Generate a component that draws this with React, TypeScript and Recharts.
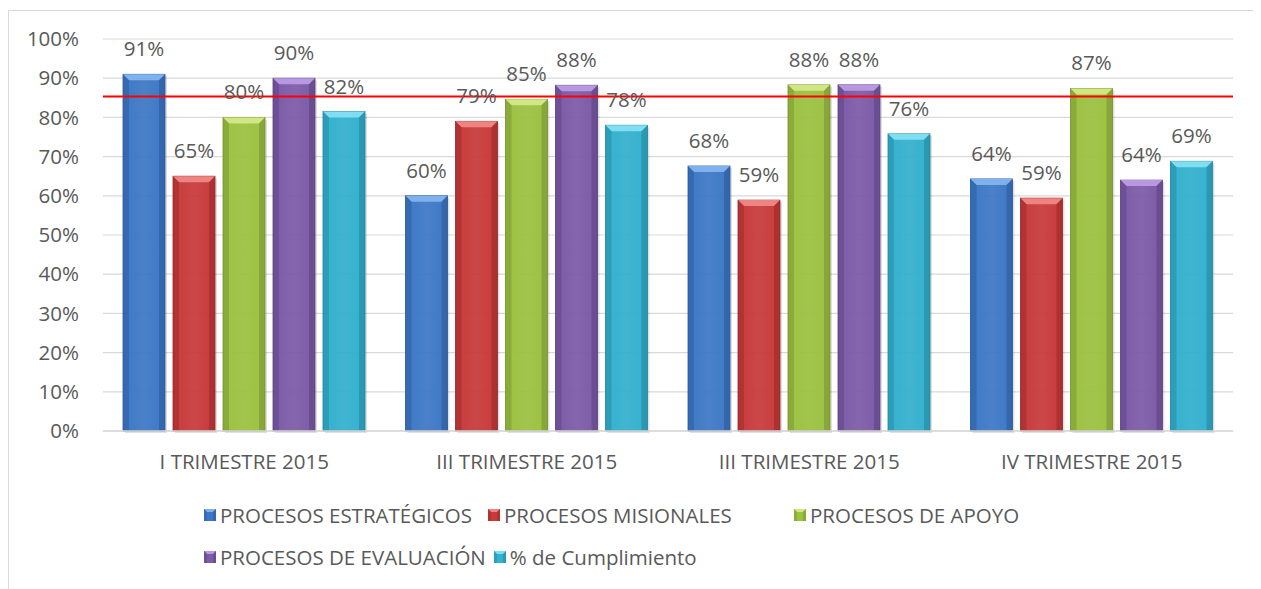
import React from 'react';
import { ComposedChart, Bar, XAxis, YAxis, CartesianGrid, ReferenceLine, LabelList, Legend } from 'recharts';

const categories = ['I TRIMESTRE 2015', 'III TRIMESTRE 2015', 'III TRIMESTRE 2015', 'IV TRIMESTRE 2015'];
const estrategicos = [91, 60, 67.6, 64.3];
const misionales = [65, 79, 58.9, 59.4];
const apoyo = [80, 84.6, 88.3, 87.4];
const evaluacion = [90, 88.2, 88.3, 64];
const cumplimiento = [81.5, 78, 75.8, 68.8];
const yTicks = [0, 10, 20, 30, 40, 50, 60, 70, 80, 90, 100];
const meta = 85.3;

const seriesNames = ['PROCESOS ESTRATÉGICOS', 'PROCESOS MISIONALES', 'PROCESOS DE APOYO', 'PROCESOS DE EVALUACIÓN', '% de Cumplimiento'];
const seriesKeys = ['estrategicos', 'misionales', 'apoyo', 'evaluacion', 'cumplimiento'];

const palette = [
  { base: '#3d78c6', light: '#7fb1ec', dark: '#2b5897' },
  { base: '#c93a3a', light: '#ee8482', dark: '#952828' },
  { base: '#9cc241', light: '#d0e783', dark: '#74912f' },
  { base: '#7d5ba8', light: '#b898df', dark: '#5b417e' },
  { base: '#33b1cf', light: '#80def2', dark: '#23849c' },
];

const data = categories.map((c, i) => ({
  name: c,
  estrategicos: estrategicos[i],
  misionales: misionales[i],
  apoyo: apoyo[i],
  evaluacion: evaluacion[i],
  cumplimiento: cumplimiento[i],
}));

const FONT = '"Open Sans", sans-serif';
const TEXT = '#595959';
const FS = 20.5;

function makeShape(idx: number) {
  const col = palette[idx];
  return (props: any) => {
    const { x, y, width: w, height: h } = props;
    if (!h || h <= 0) return null;
    const b = Math.min(6, w / 4, h);
    const gid = `g${idx}`;
    return (
      <g>
        <rect x={x + 2} y={y + 2} width={w} height={h} fill="rgba(0,0,0,0.12)" />
        <rect x={x} y={y} width={w} height={h} fill={`url(#${gid})`} stroke={col.dark} strokeWidth={0.8} />
        <polygon points={`${x},${y} ${x + w},${y} ${x + w - b},${y + b} ${x + b},${y + b}`} fill={col.light} />
        <polygon points={`${x},${y} ${x + b},${y + b} ${x + b},${y + h} ${x},${y + h}`} fill={col.dark} opacity={0.45} />
        <polygon points={`${x + w},${y} ${x + w - b},${y + b} ${x + w - b},${y + h} ${x + w},${y + h}`} fill={col.dark} opacity={0.55} />
      </g>
    );
  };
}

const shapes = palette.map((_, i) => makeShape(i));

const fmt = (v: any) => `${Math.round(Number(v))}%`;

function LegendMarker({ idx }: { idx: number }) {
  const col = palette[idx];
  return (
    <svg width={12} height={12} style={{ marginRight: 4, flex: 'none' }}>
      <rect x={0} y={0} width={12} height={12} fill={col.base} />
      <polygon points="0,0 12,0 9,3 3,3" fill={col.light} />
      <polygon points="0,0 3,3 3,12 0,12" fill={col.dark} opacity={0.4} />
      <polygon points="12,0 9,3 9,12 12,12" fill={col.dark} opacity={0.5} />
    </svg>
  );
}

function LegendItem({ idx, width, gap }: { idx: number; width?: number; gap?: number }) {
  return (
    <div style={{ display: 'flex', alignItems: 'center', width, marginRight: gap, flex: 'none' }}>
      <LegendMarker idx={idx} />
      <span style={{ fontFamily: FONT, fontSize: FS, color: TEXT, whiteSpace: 'nowrap', lineHeight: '24px' }}>{seriesNames[idx]}</span>
    </div>
  );
}

function CustomLegend() {
  return (
    <div style={{ position: 'relative', width: 1100, height: 90 }}>
      <div style={{ position: 'absolute', left: 0, top: 0, display: 'flex' }}>
        <LegendItem idx={0} width={284} />
        <LegendItem idx={1} width={306} />
        <LegendItem idx={2} />
      </div>
      <div style={{ position: 'absolute', left: 0, top: 42, display: 'flex' }}>
        <LegendItem idx={3} gap={8} />
        <LegendItem idx={4} />
      </div>
    </div>
  );
}

export default function App() {
  return (
    <div style={{ paddingTop: 2 }}>
      <style>{'body{overflow:hidden}'}</style>
      <div style={{ borderTop: '1px solid #d9d9d9', borderLeft: '1px solid #d9d9d9', width: 1253, height: 579, position: 'relative' }}>
        <ComposedChart
          width={1252}
          height={578}
          data={data}
          margin={{ top: 28, right: 28, left: 34, bottom: 28 }}
          barCategoryGap={20}
          barGap={8}
        >
          <defs>
            {palette.map((c, i) => (
              <linearGradient key={i} id={`g${i}`} x1="0" y1="0" x2="1" y2="0">
                <stop offset="0%" stopColor={c.base} />
                <stop offset="50%" stopColor={c.base} stopOpacity={0.92} />
                <stop offset="100%" stopColor={c.base} />
              </linearGradient>
            ))}
          </defs>
          <CartesianGrid vertical={false} stroke="#d9d9d9" strokeWidth={1.2} />
          <XAxis
            dataKey="name"
            tickLine={false}
            axisLine={{ stroke: '#d9d9d9', strokeWidth: 1.5 }}
            tick={{ fontFamily: FONT, fontSize: FS, fill: TEXT }}
            tickMargin={17}
            height={40}
            interval={0}
          />
          <YAxis
            domain={[0, 100]}
            ticks={yTicks}
            tickFormatter={(v: number) => `${v}%`}
            tickLine={false}
            axisLine={false}
            tick={{ fontFamily: FONT, fontSize: FS, fill: TEXT }}
            tickMargin={18}
            width={60}
            interval={0}
          />
          {seriesKeys.map((k, i) => (
            <Bar key={k} dataKey={k} name={seriesNames[i]} fill={palette[i].base} shape={shapes[i]} isAnimationActive={false}>
              <LabelList dataKey={k} position="top" offset={18} formatter={fmt} style={{ fontFamily: FONT, fontSize: FS, fill: TEXT }} />
            </Bar>
          ))}
          <ReferenceLine y={meta} stroke="#ff0000" strokeWidth={2} />
          <Legend
            content={() => <CustomLegend />}
            wrapperStyle={{ position: 'absolute', left: 195, top: 492, width: 1100, height: 90 }}
          />
        </ComposedChart>
      </div>
    </div>
  );
}
